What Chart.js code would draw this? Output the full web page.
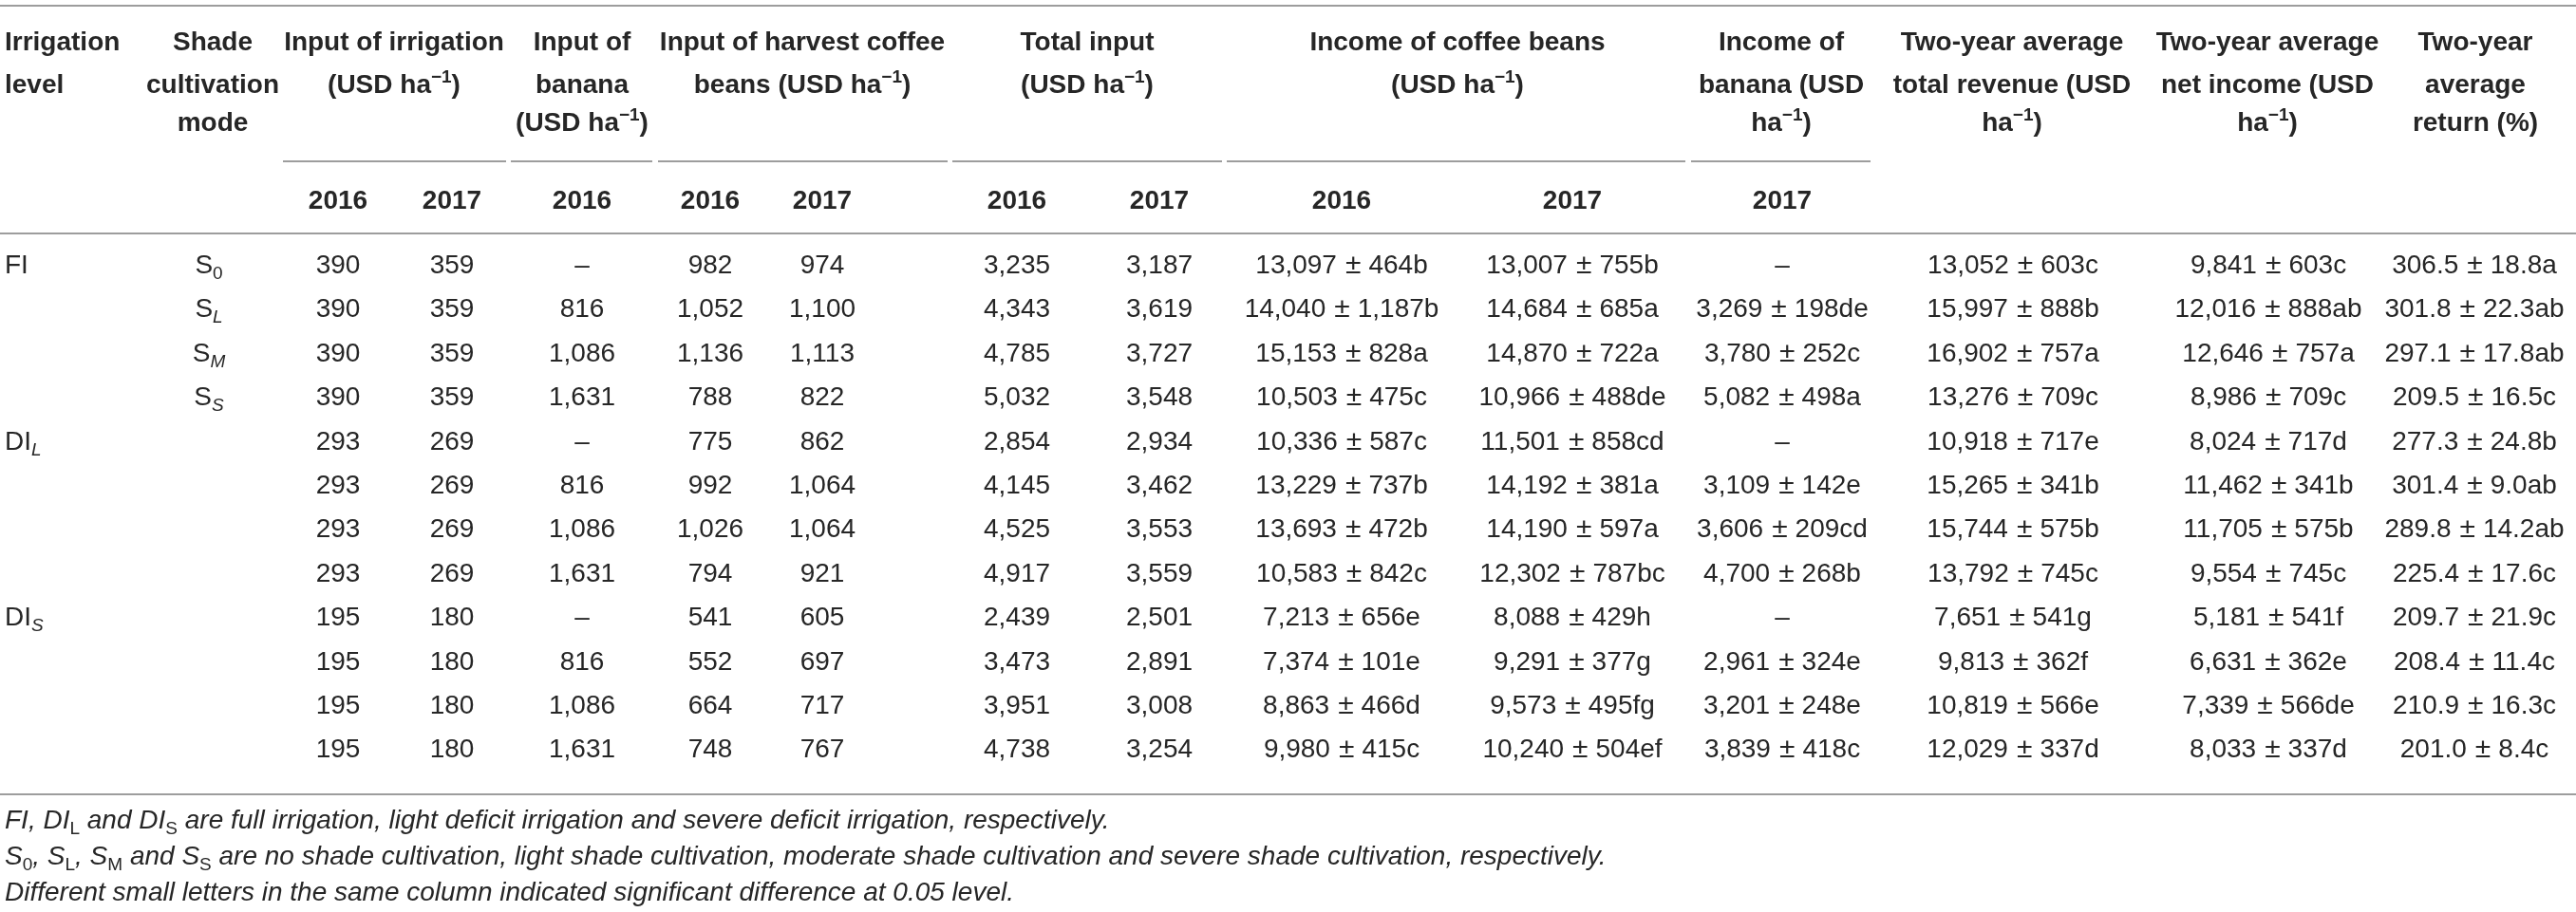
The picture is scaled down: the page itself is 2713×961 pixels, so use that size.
<!DOCTYPE html>
<html>
<head>
<meta charset="utf-8">
<script src="https://cdn.jsdelivr.net/npm/chart.js@4.4.1/dist/chart.umd.min.js"></script>
<style>
  html, body { margin: 0; padding: 0; background: #fff; }
  #wrap { width: 2713px; height: 961px; }
</style>
</head>
<body>
<div id="wrap"><canvas id="table" width="2713" height="961"></canvas></div>
<script>
const irrigationLevels = [['FI', ''], ['DI', 'L'], ['DI', 'S']];
const shadeModes = [['S', '0'], ['S', 'L'], ['S', 'M'], ['S', 'S']];
const years = ['2016', '2017'];

const irrigation2016 = [390, 390, 390, 390, 293, 293, 293, 293, 195, 195, 195, 195];
const irrigation2017 = [359, 359, 359, 359, 269, 269, 269, 269, 180, 180, 180, 180];
const banana2016 = [null, 816, 1086, 1631, null, 816, 1086, 1631, null, 816, 1086, 1631];
const harvest2016 = [982, 1052, 1136, 788, 775, 992, 1026, 794, 541, 552, 664, 748];
const harvest2017 = [974, 1100, 1113, 822, 862, 1064, 1064, 921, 605, 697, 717, 767];
const total2016 = [3235, 4343, 4785, 5032, 2854, 4145, 4525, 4917, 2439, 3473, 3951, 4738];
const total2017 = [3187, 3619, 3727, 3548, 2934, 3462, 3553, 3559, 2501, 2891, 3008, 3254];

const coffee2016 = [13097, 14040, 15153, 10503, 10336, 13229, 13693, 10583, 7213, 7374, 8863, 9980];
const coffee2016Sd = [464, 1187, 828, 475, 587, 737, 472, 842, 656, 101, 466, 415];
const coffee2016Sig = ['b', 'b', 'a', 'c', 'c', 'b', 'b', 'c', 'e', 'e', 'd', 'c'];
const coffee2017 = [13007, 14684, 14870, 10966, 11501, 14192, 14190, 12302, 8088, 9291, 9573, 10240];
const coffee2017Sd = [755, 685, 722, 488, 858, 381, 597, 787, 429, 377, 495, 504];
const coffee2017Sig = ['b', 'a', 'a', 'de', 'cd', 'a', 'a', 'bc', 'h', 'g', 'fg', 'ef'];
const bananaIncome2017 = [null, 3269, 3780, 5082, null, 3109, 3606, 4700, null, 2961, 3201, 3839];
const bananaIncome2017Sd = [null, 198, 252, 498, null, 142, 209, 268, null, 324, 248, 418];
const bananaIncome2017Sig = [null, 'de', 'c', 'a', null, 'e', 'cd', 'b', null, 'e', 'e', 'c'];
const revenue = [13052, 15997, 16902, 13276, 10918, 15265, 15744, 13792, 7651, 9813, 10819, 12029];
const revenueSd = [603, 888, 757, 709, 717, 341, 575, 745, 541, 362, 566, 337];
const revenueSig = ['c', 'b', 'a', 'c', 'e', 'b', 'b', 'c', 'g', 'f', 'e', 'd'];
const netIncome = [9841, 12016, 12646, 8986, 8024, 11462, 11705, 9554, 5181, 6631, 7339, 8033];
const netIncomeSd = [603, 888, 757, 709, 717, 341, 575, 745, 541, 362, 566, 337];
const netIncomeSig = ['c', 'ab', 'a', 'c', 'd', 'b', 'b', 'c', 'f', 'e', 'de', 'd'];
const returnRate = [306.5, 301.8, 297.1, 209.5, 277.3, 301.4, 289.8, 225.4, 209.7, 208.4, 210.9, 201.0];
const returnRateSd = [18.8, 22.3, 17.8, 16.5, 24.8, 9.0, 14.2, 17.6, 21.9, 11.4, 16.3, 8.4];
const returnRateSig = ['a', 'ab', 'ab', 'c', 'b', 'ab', 'ab', 'c', 'c', 'c', 'c', 'c'];

// ---- layout ----
const FONT = '"Liberation Sans", Arial, Helvetica, sans-serif';
const TEXT = '#262626';
const RULE = '#9d9d9d';
const ROW0 = 288;
const ROW_STEP = 46.4;
const HEAD_LINES = [53, 98, 138];
const YEAR_LINE = 220;
const RULES = [6, 246, 837];
const SUB_RULE_Y = 170;
const SUB_RULES = [[298, 533], [538, 687], [693, 998], [1003, 1287], [1292, 1775], [1781, 1970]];
const NOTE_LINES = [873, 911, 949];

const rowY = i => ROW0 + i * ROW_STEP;
const fmt = n => n.toLocaleString('en-US');

// rich-text pieces
const txt = (t, o) => Object.assign({ t: t }, o || {});
const supM1 = [txt('(USD ha'), txt('\u22121', { size: 19, dy: -11 }), txt(')')];

function plainCell(v) {
    return [txt(v === null ? '\u2013' : fmt(v))];
}
function pmCell(m, sd, sig, dec) {
    if (m === null) return [txt('\u2013')];
    const a = dec ? m.toFixed(dec) : fmt(m);
    const b = dec ? sd.toFixed(dec) : fmt(sd);
    return [txt(a), txt('', { gap: 9 }), txt('\u00b1', { size: 30 }), txt('', { gap: 8 }), txt(b + sig)];
}

const dataColumns = [
    { x: 220, cells: shadeModes.map((s, i) => [txt(s[0]), txt(s[1], { size: 19, dy: 6, italic: s[1] !== '0' })]) },
    { x: 356, cells: irrigation2016.map(plainCell) },
    { x: 476, cells: irrigation2017.map(plainCell) },
    { x: 613, cells: banana2016.map(plainCell) },
    { x: 748, cells: harvest2016.map(plainCell) },
    { x: 866, cells: harvest2017.map(plainCell) },
    { x: 1071, cells: total2016.map(plainCell) },
    { x: 1221, cells: total2017.map(plainCell) },
    { x: 1413, cells: coffee2016.map((m, i) => pmCell(m, coffee2016Sd[i], coffee2016Sig[i])) },
    { x: 1656, cells: coffee2017.map((m, i) => pmCell(m, coffee2017Sd[i], coffee2017Sig[i])) },
    { x: 1877, cells: bananaIncome2017.map((m, i) => pmCell(m, bananaIncome2017Sd[i], bananaIncome2017Sig[i])) },
    { x: 2120, cells: revenue.map((m, i) => pmCell(m, revenueSd[i], revenueSig[i])) },
    { x: 2389, cells: netIncome.map((m, i) => pmCell(m, netIncomeSd[i], netIncomeSig[i])) },
    { x: 2606, cells: returnRate.map((m, i) => pmCell(m, returnRateSd[i], returnRateSig[i], 1)) }
];
// year label under each data column except the first one
const yearColumns = [
    [356, 0], [476, 1], [613, 0], [748, 0], [866, 1], [1071, 0], [1221, 1],
    [1413, 0], [1656, 1], [1877, 1]
];

const haM1 = [txt('ha'), txt('\u22121', { size: 19, dy: -11 }), txt(')')];
const headers = [
    { x: 5, align: 'left', lines: [[txt('Irrigation')], [txt('level')]] },
    { x: 224, lines: [[txt('Shade')], [txt('cultivation')], [txt('mode')]] },
    { x: 415, lines: [[txt('Input of irrigation')], supM1] },
    { x: 613, lines: [[txt('Input of')], [txt('banana')], supM1] },
    { x: 845, lines: [[txt('Input of harvest coffee')], [txt('beans (USD ha'), txt('\u22121', { size: 19, dy: -11 }), txt(')')]] },
    { x: 1145, lines: [[txt('Total input')], supM1] },
    { x: 1535, lines: [[txt('Income of coffee beans')], supM1] },
    { x: 1876, lines: [[txt('Income of')], [txt('banana (USD')], haM1] },
    { x: 2119, lines: [[txt('Two-year average')], [txt('total revenue (USD')], haM1] },
    { x: 2388, lines: [[txt('Two-year average')], [txt('net income (USD')], haM1] },
    { x: 2607, lines: [[txt('Two-year')], [txt('average')], [txt('return (%)')]] }
];

const sub = t => txt(t, { size: 19, dy: 6, italic: false });
const notes = [
    [txt('FI, DI'), sub('L'), txt(' and DI'), sub('S'),
     txt(' are full irrigation, light deficit irrigation and severe deficit irrigation, respectively.')],
    [txt('S'), sub('0'), txt(', S'), sub('L'), txt(', S'), sub('M'), txt(' and S'), sub('S'),
     txt(' are no shade cultivation, light shade cultivation, moderate shade cultivation and severe shade cultivation, respectively.')],
    [txt('Different small letters in the same column indicated significant difference at 0.05 level.')]
];

function fontFor(p, base) {
    const italic = p.italic !== undefined ? p.italic : base.italic;
    return (italic ? 'italic ' : '') + (base.bold ? 'bold ' : '') + (p.size || base.size) + 'px ' + FONT;
}

function drawRich(ctx, parts, x, y, align, base) {
    const widths = parts.map(p => {
        if (p.gap) return p.gap;
        ctx.font = fontFor(p, base);
        return ctx.measureText(p.t).width;
    });
    const total = widths.reduce((a, b) => a + b, 0);
    let cx = align === 'left' ? x : x - total / 2;
    ctx.textAlign = 'left';
    ctx.textBaseline = 'alphabetic';
    parts.forEach((p, i) => {
        if (!p.gap) {
            ctx.font = fontFor(p, base);
            ctx.fillText(p.t, cx, y + (p.dy || 0));
        }
        cx += widths[i];
    });
}

const tablePlugin = {
    id: 'tableText',
    afterDatasetsDraw(chart) {
        const ctx = chart.ctx;
        const xs = chart.scales.x, ys = chart.scales.y;
        ctx.save();

        // rules
        ctx.strokeStyle = RULE;
        ctx.lineWidth = 2;
        RULES.forEach(r => {
            ctx.beginPath();
            ctx.moveTo(xs.getPixelForValue(0), ys.getPixelForValue(r));
            ctx.lineTo(xs.getPixelForValue(2713), ys.getPixelForValue(r));
            ctx.stroke();
        });
        SUB_RULES.forEach(s => {
            ctx.beginPath();
            ctx.moveTo(xs.getPixelForValue(s[0]), ys.getPixelForValue(SUB_RULE_Y));
            ctx.lineTo(xs.getPixelForValue(s[1]), ys.getPixelForValue(SUB_RULE_Y));
            ctx.stroke();
        });

        ctx.fillStyle = TEXT;
        const bold = { size: 28, bold: true };
        headers.forEach(h => {
            h.lines.forEach((ln, j) => {
                drawRich(ctx, ln, xs.getPixelForValue(h.x), ys.getPixelForValue(HEAD_LINES[j]), h.align, bold);
            });
        });
        yearColumns.forEach(yc => {
            drawRich(ctx, [txt(years[yc[1]])], xs.getPixelForValue(yc[0]), ys.getPixelForValue(YEAR_LINE), 'center', bold);
        });

        // cells come from the dataset points placed by the scales
        const regular = { size: 28 };
        chart.data.datasets.forEach((ds, di) => {
            const meta = chart.getDatasetMeta(di);
            meta.data.forEach((pt, i) => {
                drawRich(ctx, ds.cells[i], pt.x, pt.y, ds.align, regular);
            });
        });

        const note = { size: 28, italic: true };
        notes.forEach((n, j) => {
            drawRich(ctx, n, xs.getPixelForValue(5), ys.getPixelForValue(NOTE_LINES[j]), 'left', note);
        });
        ctx.restore();
    }
};

const datasets = dataColumns.map((c, ci) => ({
    label: 'col' + ci,
    data: c.cells.map((_, i) => ({ x: c.x, y: rowY(i) })),
    cells: c.cells,
    align: 'center',
    pointRadius: 0,
    pointHoverRadius: 0
}));
datasets.unshift({
    label: 'irrigation',
    data: irrigationLevels.map((_, g) => ({ x: 5, y: rowY(g * 4) })),
    cells: irrigationLevels.map(l => [txt(l[0]), txt(l[1], { size: 19, dy: 6, italic: true })]),
    align: 'left',
    pointRadius: 0,
    pointHoverRadius: 0
});

new Chart(document.getElementById('table').getContext('2d'), {
    type: 'scatter',
    data: { datasets: datasets },
    options: {
        responsive: false,
        animation: false,
        devicePixelRatio: 1,
        layout: { padding: 0 },
        events: [],
        plugins: { legend: { display: false }, tooltip: { enabled: false } },
        scales: {
            x: { type: 'linear', min: 0, max: 2713, display: false },
            y: { type: 'linear', min: 0, max: 961, reverse: true, display: false }
        }
    },
    plugins: [tablePlugin]
});
</script>
</body>
</html>
